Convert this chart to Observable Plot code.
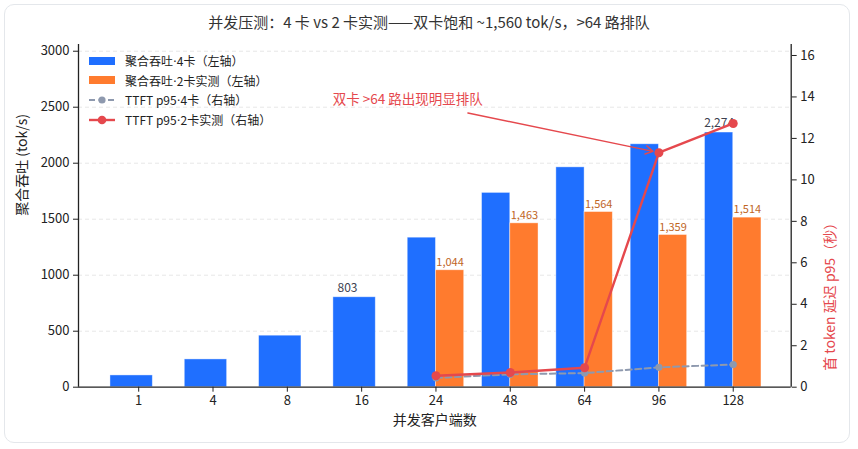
<!DOCTYPE html>
<html><head><meta charset="utf-8">
<script src="https://cdn.jsdelivr.net/npm/d3@7"></script>
<script src="https://cdn.jsdelivr.net/npm/@observablehq/plot@0.6"></script>
<style>
body{margin:0;background:#fff;font-family:"Noto Sans CJK SC","Noto Sans",sans-serif;}
#wrap{position:relative;width:858px;height:449px;overflow:hidden;}
#card{position:absolute;left:4px;top:4px;width:846px;height:439px;border:1px solid #e4e7eb;border-radius:10px;box-sizing:border-box;}
#title{position:absolute;left:0;width:858px;top:12px;text-align:center;font-size:15px;color:#333;line-height:20px;}
#chart{position:absolute;left:0;top:0;}
#legend{position:absolute;left:89px;top:51px;font-size:12px;color:#222;}
.li{display:flex;align-items:center;height:19.6px;}
.li svg{margin-right:10px;}
.dot{font-family:"DejaVu Sans",sans-serif;}
</style></head>
<body>
<div id="wrap">
<div id="card"></div>
<div id="chart"></div>
<div id="title">并发压测：4 卡 vs 2 卡实测——双卡饱和 ~1,560 tok/s，>64 路排队</div>
<div id="legend"></div>
</div>
<script>
// ---- data ----
const categories = ["1","4","8","16","24","48","64","96","128"];
const thr4 = [105, 248, 460, 803, 1335, 1735, 1963, 2169, 2274];
const thr2 = [null, null, null, null, 1044, 1463, 1564, 1359, 1514];
const ttft4 = [null, null, null, null, 0.45, 0.62, 0.68, 0.96, 1.09];
const ttft2 = [null, null, null, null, 0.55, 0.71, 0.94, 11.31, 12.72];
const labeled4 = ["16", "128"];
const leftTicks = [0, 500, 1000, 1500, 2000, 2500, 3000];
const rightTicks = [0, 2, 4, 6, 8, 10, 12, 14, 16];
const seriesNames = ["聚合吞吐·4卡（左轴）", "聚合吞吐·2卡实测（左轴）", "TTFT p95·4卡（右轴）", "TTFT p95·2卡实测（右轴）"];
const annotationText = "双卡 >64 路出现明显排队";
const annotationTarget = "96";

// ---- styles ----
const BLUE = "#1f6fff", ORANGE = "#ff7b2e", RED = "#e5484d", GRAY = "#8e99ae";
const yMaxL = 3060, yMaxR = 16.53, k = yMaxL / yMaxR;
const w = 0.38;

const rows = categories.map((c, i) => ({c, i, t4: thr4[i], t2: thr2[i], f4: ttft4[i], f2: ttft2[i]}));
const dual = rows.filter(d => d.t2 != null);
const tti = categories.indexOf(annotationTarget);

const fmt = d3.format(",");
const chart = Plot.plot({
  width: 858, height: 449,
  marginLeft: 78, marginRight: 67.3, marginTop: 44, marginBottom: 62.3,
  style: {fontFamily: '"Noto Sans CJK SC","Noto Sans",sans-serif', fontSize: "13px", color: "#222", background: "transparent"},
  x: {type: "linear", domain: [-0.81, 8.78], axis: null},
  y: {domain: [0, yMaxL], axis: null},
  marks: [
    Plot.ruleY(leftTicks.slice(1), {stroke: "#e3e3e3", strokeDasharray: "4,3", strokeWidth: 0.9}),
    Plot.rectY(rows, {x1: d => d.i - w, x2: d => d.t2 != null ? d.i : d.i + w / 2, y1: 0, y2: "t4", fill: BLUE, stroke: "#ffffff", strokeOpacity: 0.5, strokeWidth: 0.8}),
    Plot.rectY(dual, {x1: d => d.i, x2: d => d.i + w, y1: 0, y2: "t2", fill: ORANGE, stroke: "#ffffff", strokeOpacity: 0.5, strokeWidth: 0.8}),
    Plot.text(rows.filter(d => labeled4.includes(d.c)), {x: d => d.i - w / 2, y: "t4", text: d => fmt(d.t4), dy: -9, fill: "#3d4250", fontSize: 12}),
    Plot.text(dual, {x: d => d.i + w / 2, y: "t2", text: d => fmt(d.t2), dy: -8, fill: "#c0651f", fontSize: 11}),
    Plot.line(rows.filter(d => d.f4 != null), {x: "i", y: d => d.f4 * k, stroke: GRAY, strokeWidth: 2, strokeDasharray: "6,3.5"}),
    Plot.dot(rows.filter(d => d.f4 != null), {x: "i", y: d => d.f4 * k, r: 3.6, fill: GRAY}),
    Plot.line(rows.filter(d => d.f2 != null), {x: "i", y: d => d.f2 * k, stroke: RED, strokeWidth: 2.4}),
    Plot.dot(rows.filter(d => d.f2 != null), {x: "i", y: d => d.f2 * k, r: 4.5, fill: RED}),
    Plot.arrow([0], {x1: tti - 2.57, y1: ttft2[tti] * k + 355, x2: tti - 0.08, y2: ttft2[tti] * k + 12, stroke: RED, strokeWidth: 1.4, headLength: 9, bend: 0}),
    Plot.text([annotationText], {x: tti - 3.38, y: ttft2[tti] * k + 475, fill: RED, fontSize: 13.5}),
    Plot.axisY({ticks: leftTicks, tickFormat: d => String(d), tickSize: 5, tickPadding: 4, label: null, fontSize: 13, color: "#222"}),
    Plot.axisY({anchor: "right", ticks: rightTicks.map(v => v * k), tickFormat: d => String(Math.round(d / k)), tickSize: 5, tickPadding: 4, label: null, fontSize: 13}),
    Plot.axisX({ticks: categories.map((c, i) => i), tickFormat: i => categories[i], tickSize: 5, tickPadding: 4, label: null, fontSize: 13}),
    Plot.ruleX([-0.81], {stroke: "#222", strokeWidth: 1.3}),
    Plot.ruleX([8.78], {stroke: "#222", strokeWidth: 1.3}),
    Plot.ruleY([0], {stroke: "#222", strokeWidth: 1.3}),
    Plot.text(["聚合吞吐 (tok/s)"], {frameAnchor: "left", dx: -56, rotate: -90, fontSize: 14, fill: "#222"}),
    Plot.text(["首 token 延迟 p95（秒）"], {frameAnchor: "right", dx: 39, rotate: -90, fontSize: 14, fill: RED}),
    Plot.text(["并发客户端数"], {frameAnchor: "bottom", dy: 38, fontSize: 14, fill: "#222"})
  ]
});
document.getElementById("chart").appendChild(chart);

// legend
const swatches = [
  `<svg width="26" height="10"><rect x="0" y="1" width="26" height="8" fill="${BLUE}"/></svg>`,
  `<svg width="26" height="10"><rect x="0" y="1" width="26" height="8" fill="${ORANGE}"/></svg>`,
  `<svg width="26" height="10"><line x1="0" y1="5" x2="26" y2="5" stroke="${GRAY}" stroke-width="2" stroke-dasharray="6,3.5"/><circle cx="13" cy="5" r="3.6" fill="${GRAY}"/></svg>`,
  `<svg width="26" height="10"><line x1="0" y1="5" x2="26" y2="5" stroke="${RED}" stroke-width="2.4"/><circle cx="13" cy="5" r="4.3" fill="${RED}"/></svg>`
];
document.getElementById("legend").innerHTML = seriesNames.map((n, i) => `<div class="li">${swatches[i]}<span>${n.replace(/·/g, '<span class="dot">·</span>')}</span></div>`).join("");
</script>
</body></html>
